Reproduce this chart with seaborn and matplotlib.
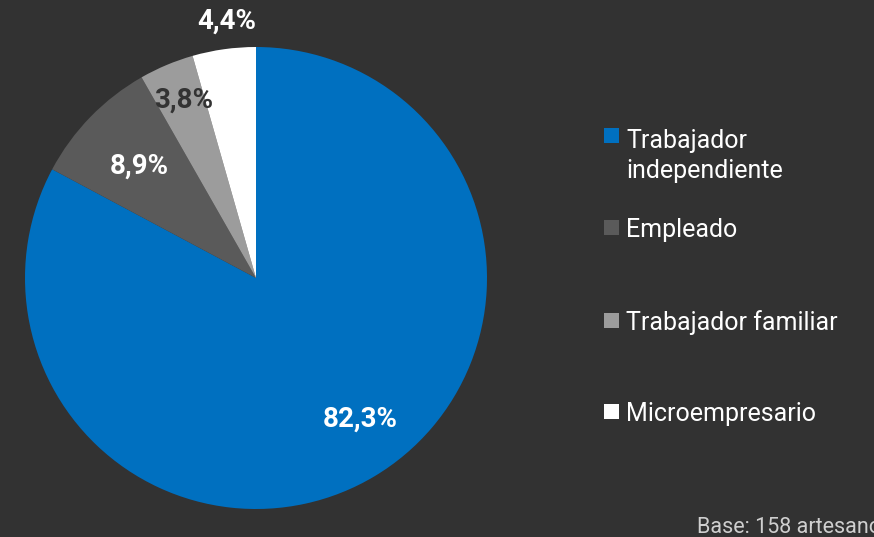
import numpy as np
import seaborn as sns
import matplotlib.pyplot as plt
from matplotlib.patches import Rectangle

# data
categories = ["Trabajador\nindependiente", "Empleado", "Trabajador familiar", "Microempresario"]
shares = [82.3, 8.9, 3.8, 4.4]
pct_labels = ["82,3%", "8,9%", "3,8%", "4,4%"]
colors = ["#0070C0", "#5A5A5A", "#9C9C9C", "#FFFFFF"]
label_colors = ["white", "white", "#333333", "white"]
label_dist = [0.76, 0.70, 0.83, 1.12]
label_turn = [5.5, 0.5, -0.5, -1.5]  # small angle nudges (deg) for the value labels
note = "Base: 158 artesanos"

bg = "#323232"
sns.set_theme(style="dark", rc={"figure.facecolor": bg, "axes.facecolor": bg})
plt.rcParams["font.family"] = ["Roboto", "DejaVu Sans"]

fig = plt.figure(figsize=(8.74, 5.37), dpi=100)
ax = fig.add_axes([25 / 874, 28 / 537, 462 / 874, 462 / 537])

wedges, _ = ax.pie(shares, colors=colors, startangle=90, counterclock=False,
                   wedgeprops={"linewidth": 0})
ax.set_xlim(-1, 1)
ax.set_ylim(-1, 1)
ax.set_aspect("equal")
ax.axis("off")

for w, lab, c, d, t in zip(wedges, pct_labels, label_colors, label_dist, label_turn):
    ang = np.deg2rad((w.theta1 + w.theta2) / 2 + t)
    ax.text(d * np.cos(ang), d * np.sin(ang), lab, color=c, fontsize=20,
            fontweight="bold", ha="center", va="center")

# legend drawn by hand to keep the uneven spacing of the original
mark_y = [145, 237, 330, 421]   # first-line baseline, pixels from top
text_y = [178, 237, 330, 421]   # last-line baseline, pixels from top
for lab, col, my, ty in zip(categories, colors, mark_y, text_y):
    fig.patches.append(Rectangle((604 / 874, 1 - (my - 2) / 537), 15 / 874, 15 / 537,
                                 transform=fig.transFigure, facecolor=col, edgecolor="none"))
    fig.text(626 / 874, 1 - ty / 537, lab, color="white", fontsize=18,
             ha="left", va="baseline", linespacing=1.3)

fig.text(697 / 874, 1 - 533 / 537, note, color="#CFCFCF", fontsize=15.5,
         ha="left", va="baseline")

fig.savefig("out.png", dpi=100, facecolor=bg)
